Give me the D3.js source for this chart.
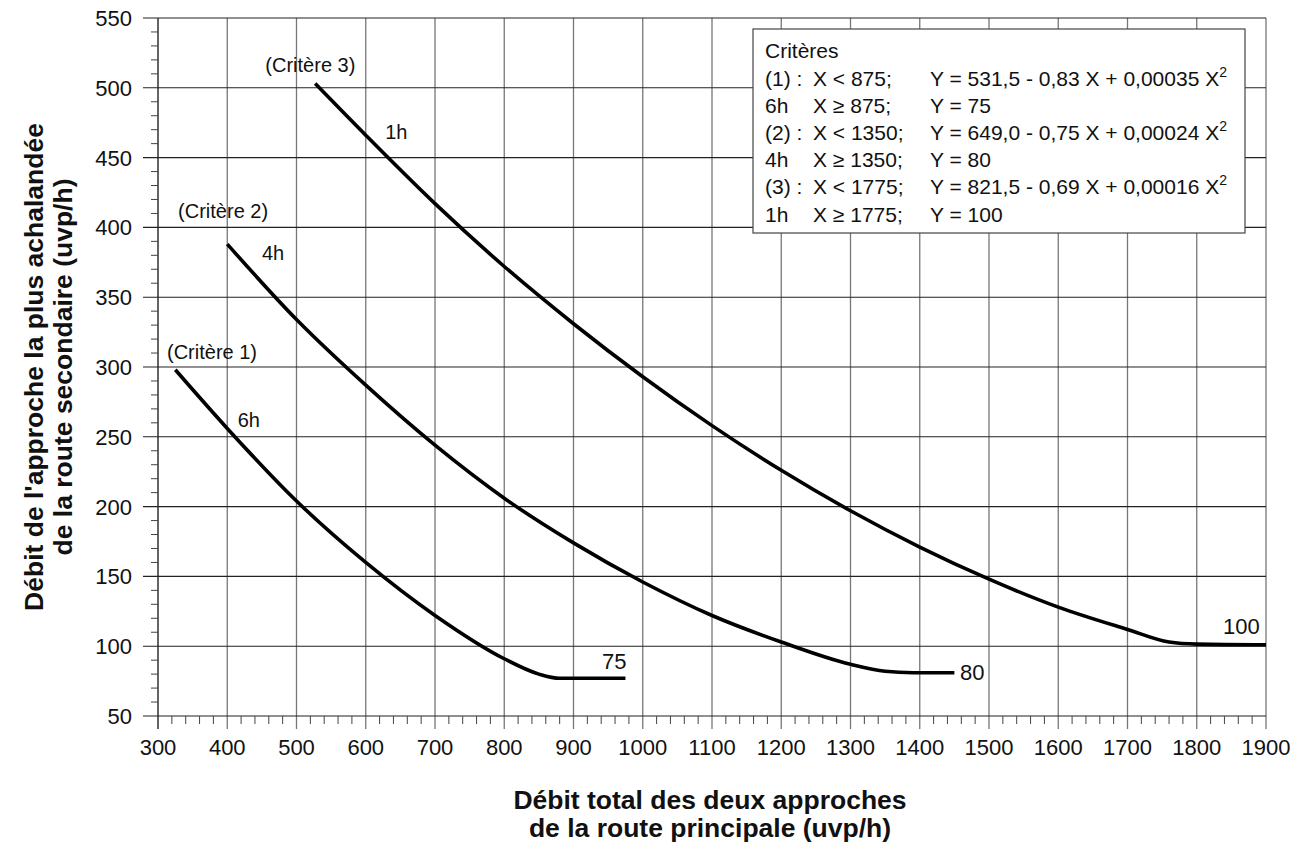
<!DOCTYPE html>
<html>
<head>
<meta charset="utf-8">
<script src="https://cdn.jsdelivr.net/npm/d3@7"></script>
<style>
  body { margin: 0; background: #fff; }
  text { font-family: "Liberation Sans", Arial, sans-serif; fill: #111; }
</style>
</head>
<body>
<svg id="chart" width="1301" height="842"></svg>
<script>
// tick labels
const xTicks = [300, 400, 500, 600, 700, 800, 900, 1000, 1100, 1200, 1300, 1400, 1500, 1600, 1700, 1800, 1900];
const yTicks = [50, 100, 150, 200, 250, 300, 350, 400, 450, 500, 550];

// curves: [total main-road flow, minor-road flow]
const critere1 = [[325, 298], [400, 256], [500, 204], [600, 160], [700, 122], [800, 91], [850, 80], [880, 77], [975, 77]];
const critere2 = [[400, 388], [500, 334], [600, 287], [700, 244], [800, 206], [900, 174], [1000, 146], [1100, 122], [1200, 103], [1300, 87], [1350, 82], [1390, 81], [1450, 81]];
const critere3 = [[527, 503], [600, 466], [700, 417], [800, 372], [900, 331], [1000, 293], [1100, 258], [1200, 226], [1300, 197], [1400, 171], [1500, 148], [1600, 128], [1700, 112], [1760, 103], [1800, 101.5], [1900, 101]];

// curve annotations, anchored in data units
const curveLabels = [
  { text: "(Critère 3)", x: 455, y: 511 },
  { text: "1h", x: 628, y: 463 },
  { text: "(Critère 2)", x: 329, y: 407 },
  { text: "4h", x: 450, y: 377 },
  { text: "(Critère 1)", x: 313, y: 306 },
  { text: "6h", x: 415, y: 257 },
  { text: "75", x: 941, y: 84, big: true },
  { text: "80", x: 1458, y: 76, big: true },
  { text: "100", x: 1838, y: 109, big: true }
];

const legendTitle = "Critères";
const legendRows = [
  ["(1) :", "X < 875;", "Y = 531,5 - 0,83 X + 0,00035 X", "2"],
  ["6h", "X ≥ 875;", "Y = 75"],
  ["(2) :", "X < 1350;", "Y = 649,0 - 0,75 X + 0,00024 X", "2"],
  ["4h", "X ≥ 1350;", "Y = 80"],
  ["(3) :", "X < 1775;", "Y = 821,5 - 0,69 X + 0,00016 X", "2"],
  ["1h", "X ≥ 1775;", "Y = 100"]
];

const xTitle = ["Débit total des deux approches", "de la route principale (uvp/h)"];
const yTitle = ["Débit de l'approche la plus achalandée", "de la route secondaire (uvp/h)"];

const svg = d3.select("#chart");

const x = d3.scaleLinear().domain([300, 1900]).range([158, 1266]);
const y = d3.scaleLinear().domain([50, 550]).range([716, 18]);

// minor ticks
const xMinor = d3.range(300, 1900, 20).filter(v => v % 100 !== 0);
const yMinor = d3.range(50, 550, 10).filter(v => v % 50 !== 0);

const grid = svg.append("g");

// vertical grid lines (grey), extended below axis as major ticks
grid.selectAll(".vgrid")
  .data(xTicks)
  .enter().append("line")
  .attr("x1", d => x(d)).attr("x2", d => x(d))
  .attr("y1", y(550)).attr("y2", y(50) + 13)
  .attr("stroke", d => (d === 300 ? "#111" : "#777"))
  .attr("stroke-width", 1.3);

// horizontal grid lines (dark)
grid.selectAll(".hgrid")
  .data(yTicks)
  .enter().append("line")
  .attr("x1", x(300) - 15).attr("x2", x(1900))
  .attr("y1", d => y(d)).attr("y2", d => y(d))
  .attr("stroke", "#222")
  .attr("stroke-width", 1.1);

// minor ticks
grid.selectAll(".xminor")
  .data(xMinor)
  .enter().append("line")
  .attr("x1", d => x(d)).attr("x2", d => x(d))
  .attr("y1", y(50)).attr("y2", y(50) + 8)
  .attr("stroke", "#444").attr("stroke-width", 1);

grid.selectAll(".yminor")
  .data(yMinor)
  .enter().append("line")
  .attr("x1", x(300) - 7).attr("x2", x(300))
  .attr("y1", d => y(d)).attr("y2", d => y(d))
  .attr("stroke", "#444").attr("stroke-width", 1);

// tick labels
svg.append("g").selectAll("text")
  .data(xTicks)
  .enter().append("text")
  .attr("x", d => x(d))
  .attr("y", y(50) + 39)
  .attr("text-anchor", "middle")
  .style("font-size", "22px")
  .text(d => d);

svg.append("g").selectAll("text")
  .data(yTicks)
  .enter().append("text")
  .attr("x", x(300) - 26)
  .attr("y", d => y(d) + 8)
  .attr("text-anchor", "end")
  .style("font-size", "22px")
  .text(d => d);

// curves
const line = d3.line()
  .x(d => x(d[0]))
  .y(d => y(d[1]))
  .curve(d3.curveMonotoneX);

svg.append("g").selectAll("path")
  .data([critere1, critere2, critere3])
  .enter().append("path")
  .attr("d", line)
  .attr("fill", "none")
  .attr("stroke", "#000")
  .attr("stroke-width", 3.6)
  .attr("stroke-linejoin", "round");

// curve labels
svg.append("g").selectAll("text")
  .data(curveLabels)
  .enter().append("text")
  .attr("x", d => x(d.x))
  .attr("y", d => y(d.y))
  .style("font-size", d => (d.big ? "22px" : "20px"))
  .text(d => d.text);

// legend box
const lg = svg.append("g");
lg.append("rect")
  .attr("x", 753).attr("y", 29)
  .attr("width", 492).attr("height", 204)
  .attr("fill", "#fff")
  .attr("stroke", "#444")
  .attr("stroke-width", 1.2);

lg.append("text")
  .attr("x", 765).attr("y", 58)
  .style("font-size", "21px")
  .text(legendTitle);

const colX = [765, 813, 930];
legendRows.forEach((row, i) => {
  const by = 85.5 + i * 27.2;
  row.slice(0, 3).forEach((t, j) => {
    const tx = lg.append("text")
      .attr("x", colX[j]).attr("y", by)
      .style("font-size", "21px")
      .text(t);
    if (j === 2 && row[3]) {
      tx.append("tspan")
        .attr("dy", -9)
        .style("font-size", "14px")
        .text(row[3]);
    }
  });
});

// axis titles
svg.append("g").selectAll("text")
  .data(xTitle)
  .enter().append("text")
  .attr("x", 710)
  .attr("y", (d, i) => 809 + i * 28)
  .attr("text-anchor", "middle")
  .style("font-size", "26.5px")
  .style("font-weight", "bold")
  .text(d => d);

svg.append("g").selectAll("text")
  .data(yTitle)
  .enter().append("text")
  .attr("transform", (d, i) => `translate(${43 + i * 29},367) rotate(-90)`)
  .attr("text-anchor", "middle")
  .style("font-size", "26.5px")
  .style("font-weight", "bold")
  .text(d => d);
</script>
</body>
</html>
